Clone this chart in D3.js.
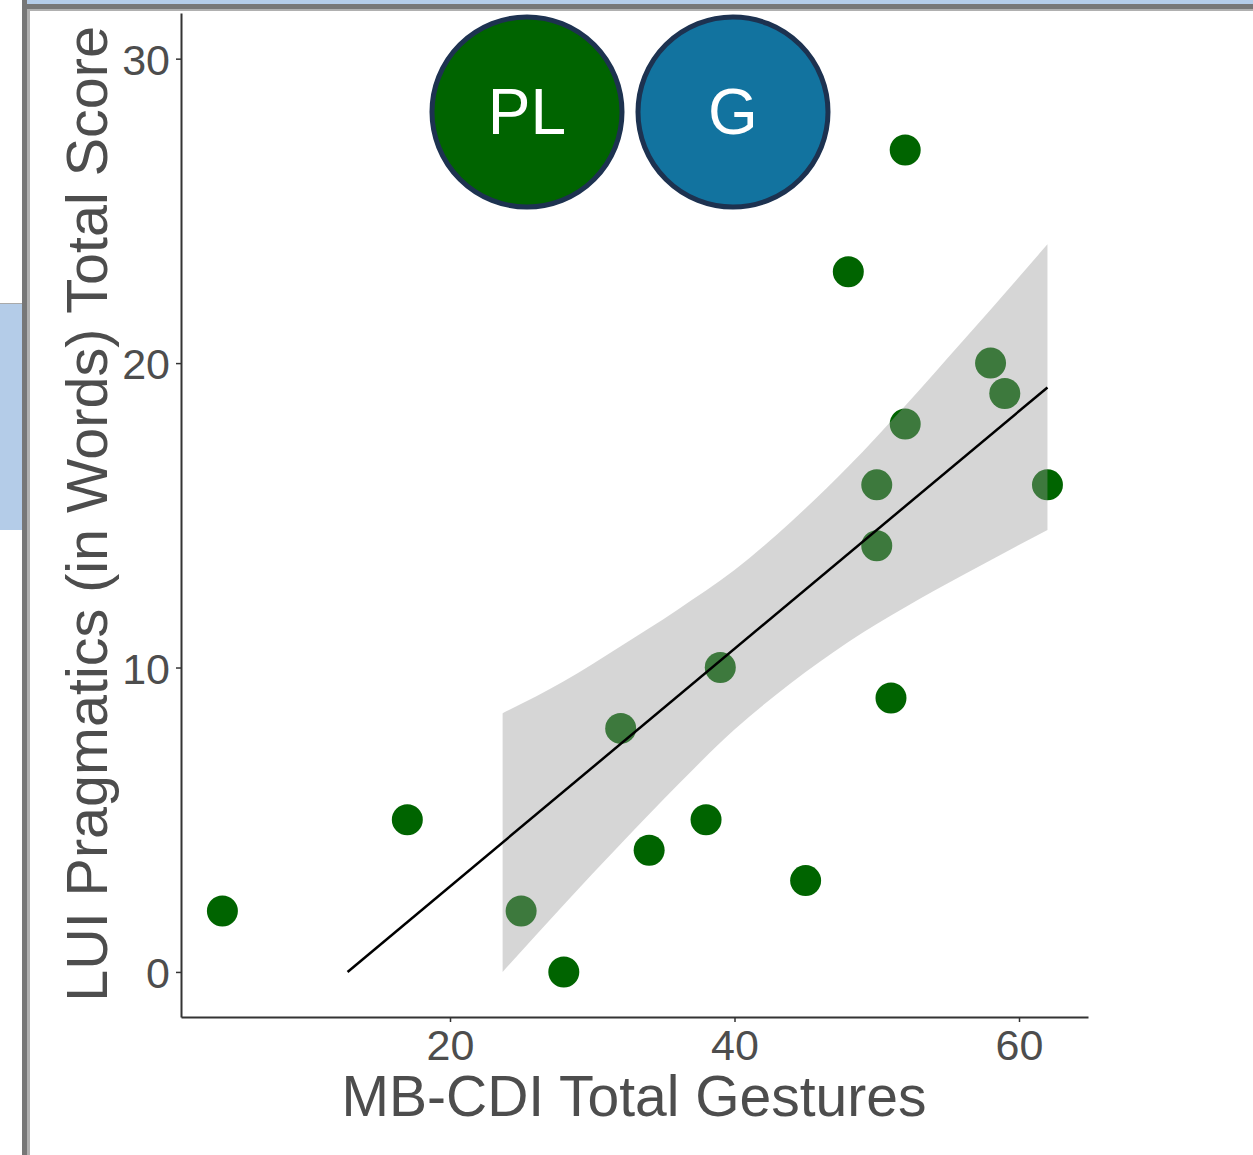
<!DOCTYPE html>
<html>
<head>
<meta charset="utf-8">
<script src="https://cdn.jsdelivr.net/npm/d3@7"></script>
<style>
  body { margin: 0; background: #fff; }
  svg { display: block; font-family: Arial, "Liberation Sans", sans-serif; }
</style>
</head>
<body>
<script>
// data
var gestures = [4, 17, 25, 28, 32, 34, 38, 39, 45, 48, 50, 50, 51, 52, 52, 58, 59, 62];
var pragmatics = [2, 5, 2, 0, 8, 4, 5, 10, 3, 23, 16, 14, 9, 27, 18, 20, 19, 16];

// fitted line and confidence band
var fitX = [12.8, 62];
var fitY = [0, 19.2];
var bandX =     [23.7, 28,   32,   36,   40,   44,   48,   52,    56,    62];
var bandUpper = [8.5,  9.55, 10.7, 11.9, 13.2, 14.8, 16.6, 18.6,  20.7,  23.9];
var bandLower = [0,    2.21, 4.2,  6.14, 7.96, 9.5,  10.84, 11.98, 13.02, 14.52];

var xTicks = [20, 40, 60];
var yTicks = [0, 10, 20, 30];

var legendLabels = ["PL", "G"];
var legendColors = ["#006400", "#12739f"];

var width = 1253, height = 1155;

var svg = d3.select('body')
    .append('svg')
    .attr('width', width)
    .attr('height', height);

// slide frame bits around the chart
svg.append("rect").attr("x", 22).attr("y", 0).attr("width", width - 22).attr("height", 4).attr("fill", "#b4cce8");
svg.append("rect").attr("x", 22).attr("y", 4).attr("width", width - 22).attr("height", 5).attr("fill", "#777");
svg.append("rect").attr("x", 27).attr("y", 9).attr("width", width - 27).attr("height", 2).attr("fill", "#b0b0b0");
svg.append("rect").attr("x", 22).attr("y", 0).attr("width", 5).attr("height", height).attr("fill", "#777");
svg.append("rect").attr("x", 27).attr("y", 9).attr("width", 3).attr("height", height).attr("fill", "#b0b0b0");
svg.append("rect").attr("x", 0).attr("y", 303).attr("width", 22).attr("height", 1).attr("fill", "#aaa");
svg.append("rect").attr("x", 0).attr("y", 304).attr("width", 22).attr("height", 226).attr("fill", "#b4cce8");

var x = d3.scaleLinear()
    .domain([1.09, 64.85])
    .range([181, 1088]);
var y = d3.scaleLinear()
    .domain([-1.48, 31.5])
    .range([1017, 13]);

// points first, band goes on top (semi transparent like ggplot)
svg.append("g")
  .selectAll("circle")
  .data(gestures)
  .enter().append("circle")
  .attr("cx", function(d) { return x(d); })
  .attr("cy", function(d, i) { return y(pragmatics[i]); })
  .attr("r", 15.5)
  .attr("fill", "#006400");

var band = d3.area()
    .x(function(d, i) { return x(d); })
    .y0(function(d, i) { return y(bandLower[i]); })
    .y1(function(d, i) { return y(bandUpper[i]); })
    .curve(d3.curveMonotoneX);
svg.append("path")
    .attr("d", band(bandX))
    .attr("fill", "#999999")
    .attr("fill-opacity", 0.4);

var line = d3.line()
    .x(function(d) { return x(d); })
    .y(function(d, i) { return y(fitY[i]); });
svg.append("path")
    .attr("d", line(fitX))
    .attr("fill", "none")
    .attr("stroke", "#000")
    .attr("stroke-width", 2.5);

// axes
var xAxis = svg.append("g")
    .attr("transform", "translate(0,1017)")
    .call(d3.axisBottom(x).tickValues(xTicks).tickSize(5).tickPadding(6).tickSizeOuter(0));
var yAxis = svg.append("g")
    .attr("transform", "translate(181,0)")
    .call(d3.axisLeft(y).tickValues(yTicks).tickSize(5).tickPadding(6).tickSizeOuter(0));

[xAxis, yAxis].forEach(function(a) {
  a.select(".domain").attr("stroke", "#333").attr("stroke-width", 2);
  a.selectAll(".tick line").attr("stroke", "#333").attr("stroke-width", 1.5);
  a.selectAll(".tick text")
    .attr("fill", "#4d4d4d")
    .style("font-size", "43px")
    .style("font-family", "Arial, 'Liberation Sans', sans-serif");
});
xAxis.selectAll(".tick text").attr("dy", "0.74em");
yAxis.selectAll(".tick text").attr("dy", "0.36em");

// axis titles
svg.append("text")
    .attr("x", 634)
    .attr("y", 1116)
    .attr("text-anchor", "middle")
    .attr("fill", "#4d4d4d")
    .style("font-size", "57px")
    .text("MB-CDI Total Gestures");

svg.append("text")
    .attr("transform", "translate(107,514) rotate(-90)")
    .attr("text-anchor", "middle")
    .attr("fill", "#4d4d4d")
    .style("font-size", "57.5px")
    .text("LUI Pragmatics (in Words) Total Score");

// legend bubbles
var leg = svg.append("g")
  .selectAll("g")
  .data(legendLabels)
  .enter().append("g")
  .attr("transform", function(d, i) { return "translate(" + (527 + i * 206) + ",112)"; });
leg.append("circle")
    .attr("r", 95)
    .attr("fill", function(d, i) { return legendColors[i]; })
    .attr("stroke", "#1d3250")
    .attr("stroke-width", 5);
leg.append("text")
    .attr("text-anchor", "middle")
    .attr("y", 22)
    .attr("fill", "#fff")
    .style("font-size", "64px")
    .text(function(d) { return d; });
</script>
</body>
</html>
